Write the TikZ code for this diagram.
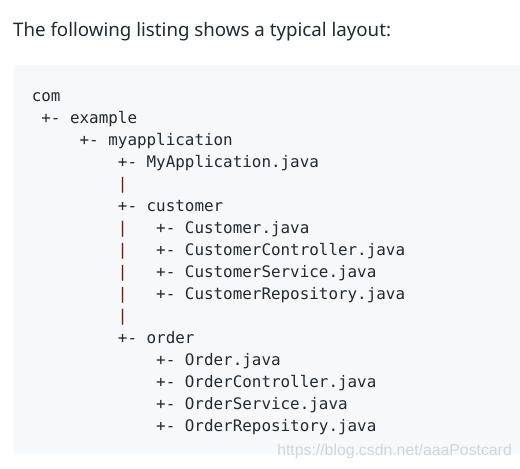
\documentclass[tikz,border=0pt]{standalone}
\usepackage{fontspec}
\setmainfont{Noto Sans}
\setmonofont{DejaVu Sans Mono}
\newfontfamily\markfont{Liberation Sans}
\usetikzlibrary{positioning}
\definecolor{codebg}{RGB}{246,248,250}
\definecolor{ink}{RGB}{36,41,46}
\definecolor{treebar}{RGB}{88,34,28}
\newcommand\treepipe{\textcolor{treebar}{|}}

\begin{document}
\begin{tikzpicture}[x=1pt,y=-1pt,
    codeline/.style={anchor=base west,inner sep=0pt,text=ink,
      font=\fontsize{15.9}{22}\selectfont\ttfamily}]
  \useasboundingbox (0,0) rectangle (520,469);
  % heading and code block
  \node[anchor=base west,inner sep=0pt,text=ink,font=\fontsize{18.7}{22}\selectfont] (title) at (13,36.7)
    {The following listing shows a typical layout:};
  \fill[codebg,rounded corners=3pt] (13.3,65) rectangle (530,454);
  \foreach \c/\t [count=\i from 0] in {0/com,1/+- example,5/+- myapplication,
      9/+- MyApplication.java,9/\treepipe,9/+- customer,
      9/\treepipe\ \ \ +- Customer.java,9/\treepipe\ \ \ +- CustomerController.java,
      9/\treepipe\ \ \ +- CustomerService.java,9/\treepipe\ \ \ +- CustomerRepository.java,
      9/\treepipe,9/+- order,13/+- Order.java,13/+- OrderController.java,
      13/+- OrderService.java,13/+- OrderRepository.java}{
    \node[codeline] (line\i) at (31.6+\c*9.57,101+\i*22) {\t};
  }
  % watermark
  \node[anchor=base east,inner sep=0pt,text=black!20,opacity=0.8,
    font=\fontsize{15.8}{18}\selectfont\markfont] (mark) at (512,455.5) {https://blog.csdn.net/aaaPostcard};
\end{tikzpicture}
\end{document}
